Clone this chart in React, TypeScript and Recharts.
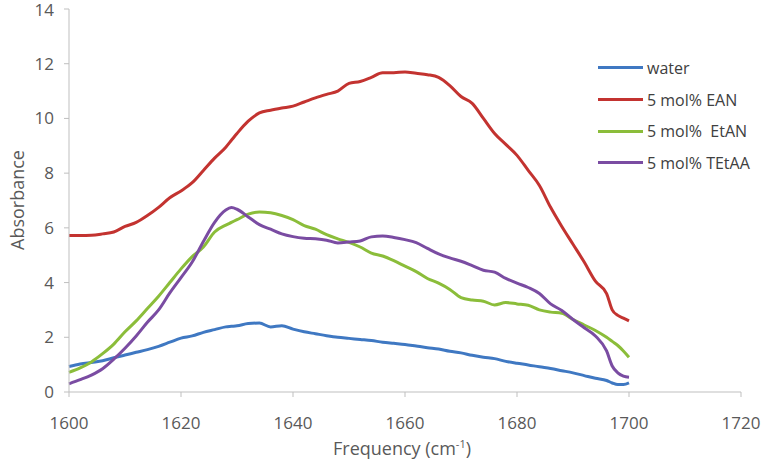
import { Label, Legend, Line, LineChart, XAxis, YAxis } from "recharts";

const freq = [
  1600, 1602, 1604, 1606, 1608, 1610, 1612, 1614, 1616, 1618, 1620, 1622, 1624, 1626, 1628, 1629, 1630, 1632, 1634,
  1636, 1638, 1640, 1642, 1644, 1646, 1648, 1650, 1652, 1654, 1656, 1658, 1660, 1662, 1664, 1666, 1668, 1670, 1672,
  1674, 1676, 1678, 1680, 1682, 1684, 1686, 1688, 1690, 1692, 1694, 1696, 1697, 1698, 1699, 1700,
];

const water = [
  0.93, 1.02, 1.08, 1.14, 1.25, 1.35, 1.45, 1.55, 1.67, 1.82, 1.97, 2.05, 2.18, 2.28, 2.38, 2.4, 2.42, 2.5, 2.52,
  2.38, 2.42, 2.3, 2.2, 2.13, 2.06, 2.0, 1.96, 1.92, 1.88, 1.82, 1.78, 1.74, 1.68, 1.62, 1.57, 1.49, 1.43, 1.34,
  1.27, 1.22, 1.12, 1.05, 0.99, 0.92, 0.86, 0.78, 0.7, 0.6, 0.5, 0.42, 0.33, 0.27, 0.27, 0.33,
];

const ean = [
  5.72, 5.72, 5.73, 5.78, 5.85, 6.05, 6.2, 6.45, 6.75, 7.1, 7.35, 7.65, 8.1, 8.55, 8.95, 9.2, 9.45, 9.9, 10.2,
  10.3, 10.38, 10.45, 10.6, 10.75, 10.88, 11.0, 11.28, 11.35, 11.5, 11.67, 11.67, 11.7, 11.65, 11.6, 11.5, 11.2,
  10.8, 10.55, 10.0, 9.45, 9.05, 8.65, 8.1, 7.55, 6.75, 6.05, 5.4, 4.75, 4.05, 3.6, 3.0, 2.8, 2.7, 2.6,
];

const etan = [
  0.72, 0.88, 1.1, 1.4, 1.75, 2.2, 2.6, 3.05, 3.5, 4.0, 4.5, 4.95, 5.3, 5.85, 6.1, 6.2, 6.3, 6.5, 6.58, 6.55, 6.45,
  6.3, 6.08, 5.95, 5.75, 5.6, 5.47, 5.3, 5.08, 4.97, 4.8, 4.6, 4.4, 4.15, 3.98, 3.75, 3.45, 3.36, 3.32, 3.18, 3.27,
  3.22, 3.17, 3.0, 2.92, 2.88, 2.65, 2.45, 2.25, 2.0, 1.85, 1.7, 1.5, 1.27,
];

const tetaa = [
  0.3, 0.45, 0.62, 0.85, 1.2, 1.6, 2.05, 2.55, 3.0, 3.62, 4.18, 4.75, 5.5, 6.2, 6.65, 6.74, 6.68, 6.4, 6.12, 5.95,
  5.78, 5.68, 5.62, 5.6, 5.55, 5.45, 5.48, 5.52, 5.67, 5.7, 5.65, 5.57, 5.46, 5.25, 5.05, 4.9, 4.78, 4.62, 4.45,
  4.38, 4.15, 3.98, 3.82, 3.6, 3.22, 2.98, 2.65, 2.35, 2.05, 1.5, 0.95, 0.7, 0.58, 0.54,
];

const xTicks = [1600, 1620, 1640, 1660, 1680, 1700, 1720];
const yTicks = [0, 2, 4, 6, 8, 10, 12, 14];

const SERIES = [
  { key: "water", name: "water", colour: "#3f78c2" },
  { key: "ean", name: "5 mol% EAN", colour: "#c33330" },
  { key: "etan", name: "5 mol%  EtAN", colour: "#8bbd3a" },
  { key: "tetaa", name: "5 mol% TEtAA", colour: "#7a4ca2" },
];

const rows = freq.map((f, i) => ({ f, water: water[i], ean: ean[i], etan: etan[i], tetaa: tetaa[i] }));

const FONT = "'Open Sans', sans-serif";
const AXIS = "#bfbfbf";
const TEXT = "#595959";

function ChartLegend() {
  return (
    <div style={{ fontFamily: FONT, fontSize: 16, color: "#404040" }}>
      {SERIES.map((s) => (
        <div key={s.key} style={{ display: "flex", alignItems: "center", height: 31.7 }}>
          <span style={{ display: "inline-block", width: 45, height: 3, background: s.colour, marginRight: 4 }} />
          <span style={{ whiteSpace: "pre" }}>{s.name}</span>
        </div>
      ))}
    </div>
  );
}

export default function App() {
  return (
    <div style={{ position: "absolute", left: 0, top: 0, width: 765, height: 464, background: "#fff" }}>
      <LineChart width={765} height={464} data={rows} margin={{ top: 9, right: 24, bottom: 42, left: 0 }}>
        <XAxis
          dataKey="f"
          type="number"
          domain={[1600, 1720]}
          ticks={xTicks}
          height={30}
          stroke={AXIS}
          tickSize={5}
          tickMargin={20}
          tick={{ fill: TEXT, fontSize: 17, fontFamily: FONT }}
        >
          <Label
            content={() => (
              <text x={402} y={455} textAnchor="middle" fill={TEXT} fontSize={18} fontFamily={FONT}>
                <tspan>Frequency (cm</tspan>
                <tspan dy={-7} fontSize={11}>-1</tspan>
                <tspan dy={7}>)</tspan>
              </text>
            )}
          />
        </XAxis>
        <YAxis
          width={69}
          type="number"
          domain={[0, 14]}
          ticks={yTicks}
          stroke={AXIS}
          tickSize={5}
          tickMargin={10}
          tick={{ fill: TEXT, fontSize: 17, fontFamily: FONT }}
        >
          <Label
            content={() => (
              <text
                x={17}
                y={200}
                textAnchor="middle"
                dominantBaseline="central"
                transform="rotate(-90 17 200)"
                fill={TEXT}
                fontSize={18}
                fontFamily={FONT}
              >
                Absorbance
              </text>
            )}
          />
        </YAxis>
        <Legend
          layout="vertical"
          align="center"
          verticalAlign="middle"
          wrapperStyle={{ left: 598, top: 52, width: 170 }}
          content={() => <ChartLegend />}
        />
        {SERIES.map((s) => (
          <Line
            key={s.key}
            dataKey={s.key}
            name={s.name}
            type="monotone"
            stroke={s.colour}
            strokeWidth={3}
            dot={false}
            isAnimationActive={false}
          />
        ))}
      </LineChart>
    </div>
  );
}
